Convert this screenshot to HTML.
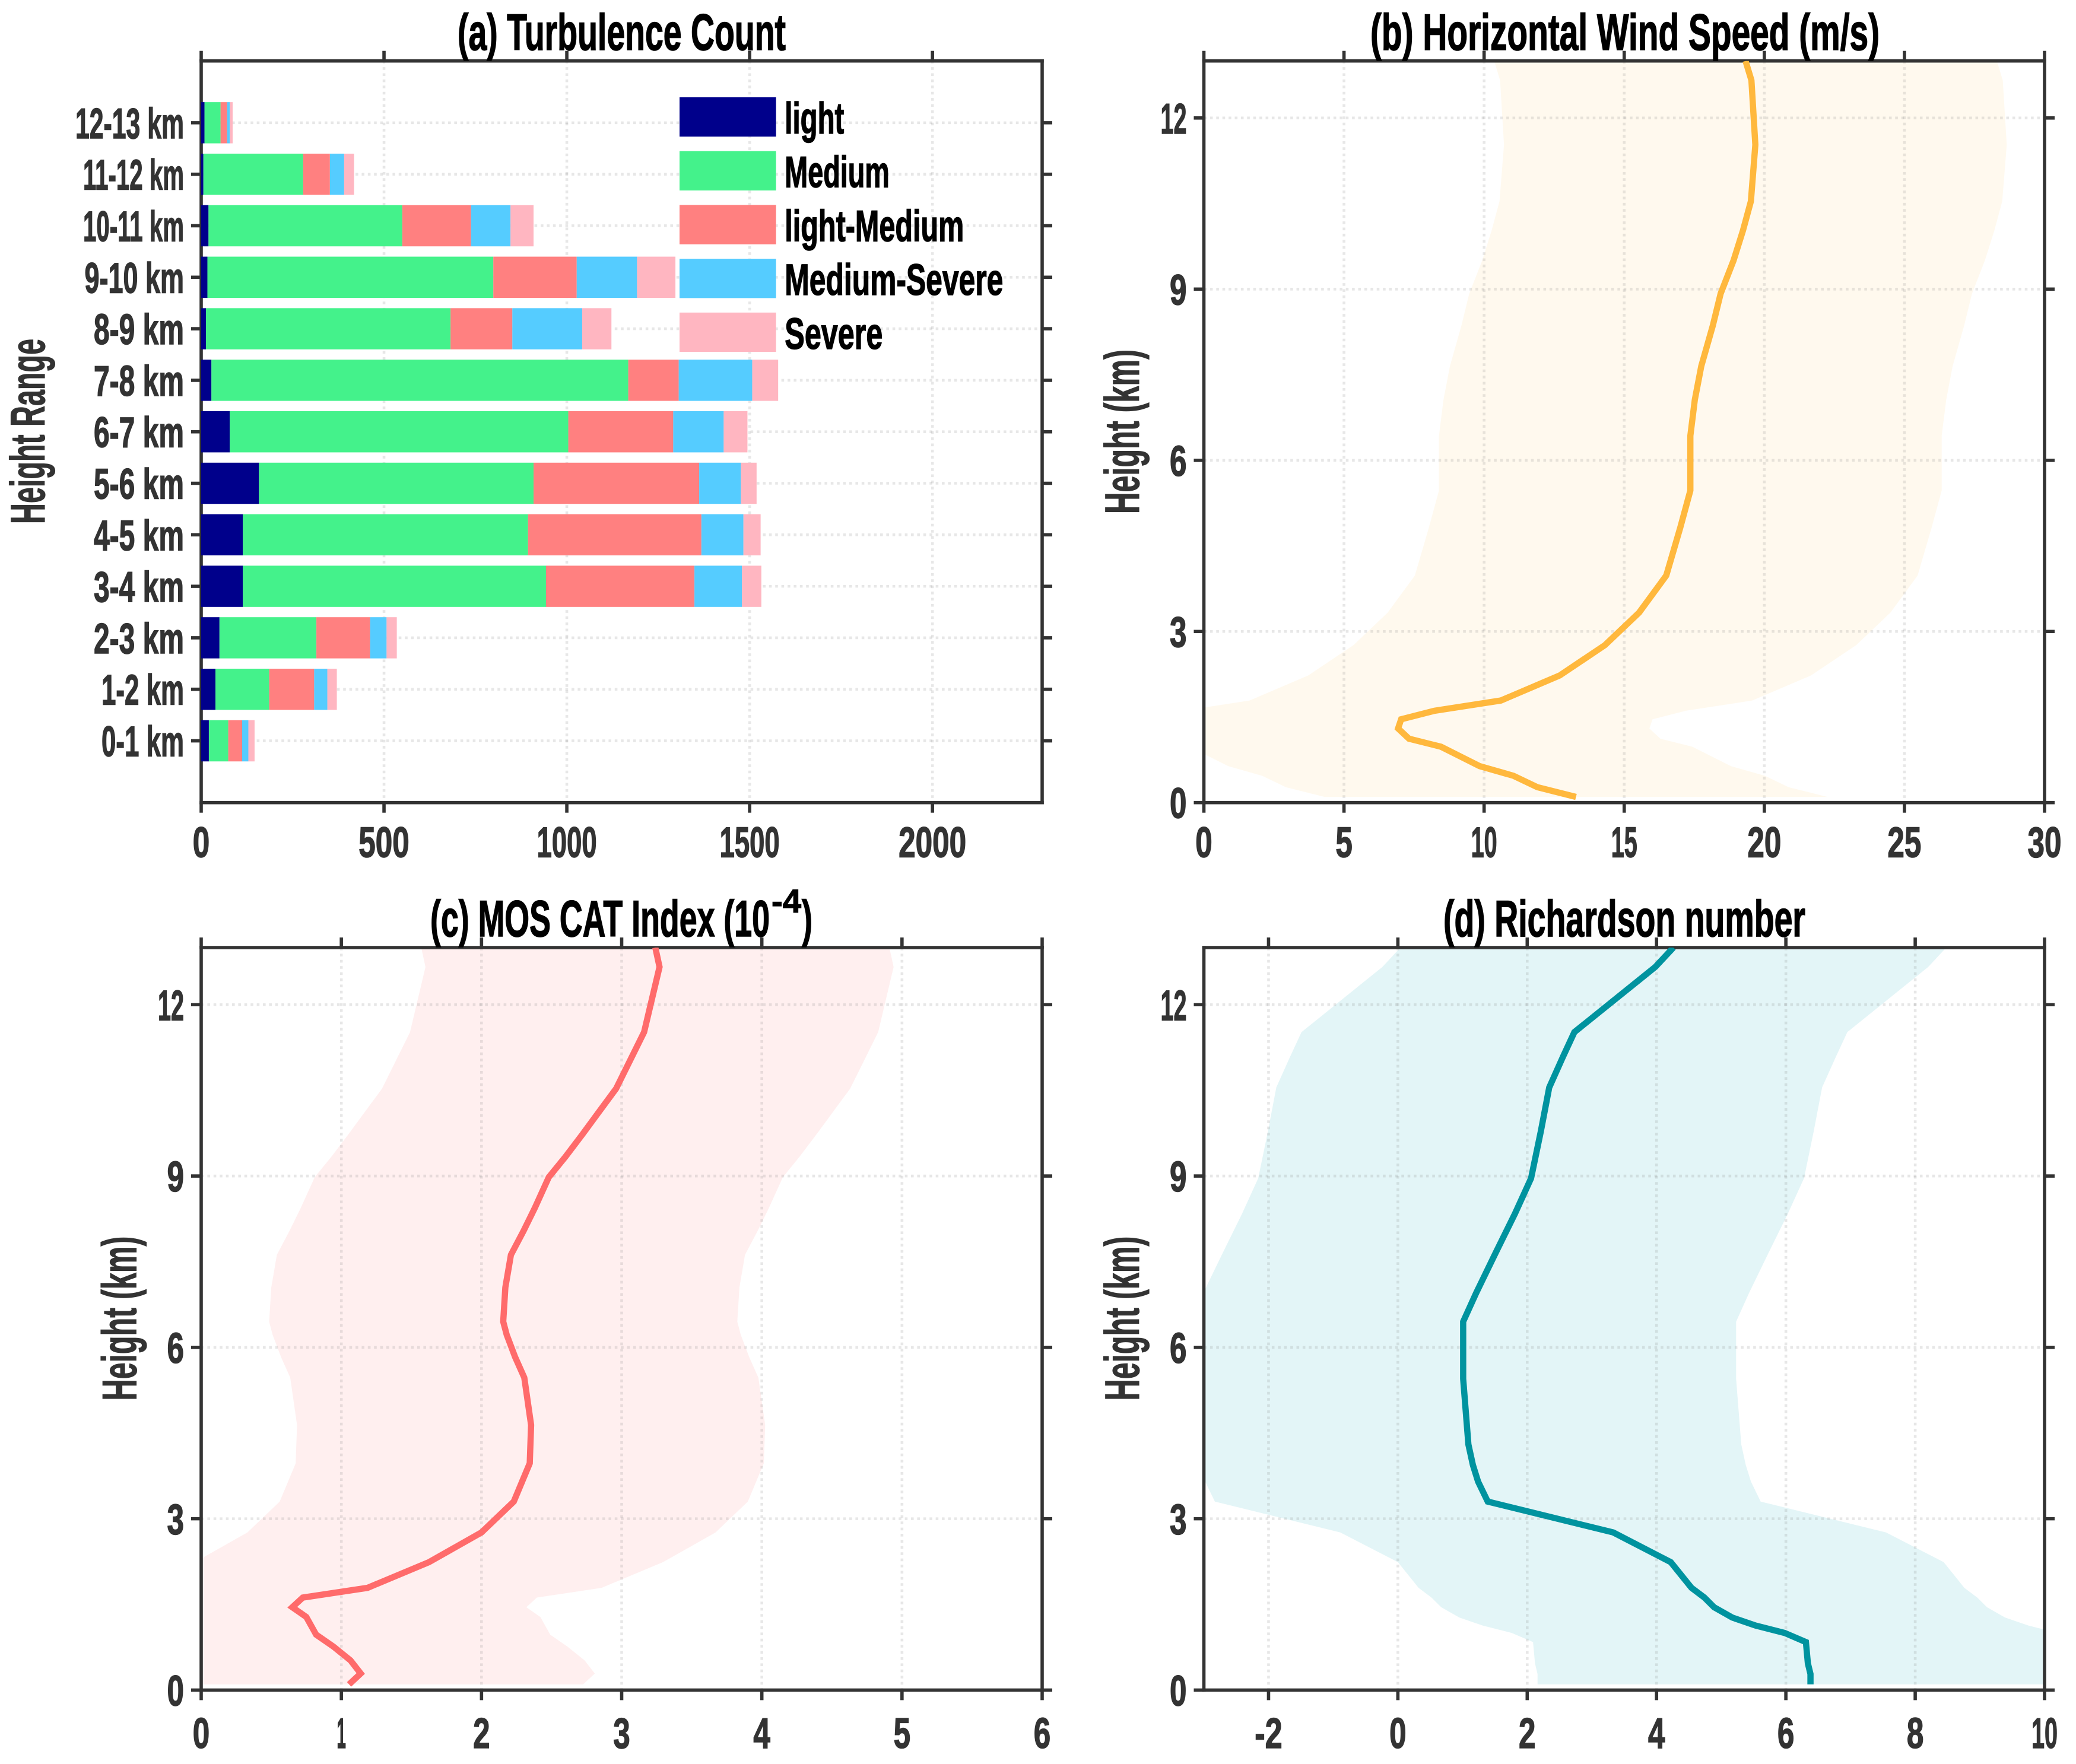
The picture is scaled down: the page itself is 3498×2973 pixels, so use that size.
<!DOCTYPE html>
<html lang="en">
<head>
<meta charset="utf-8">
<title>Turbulence profile chart</title>
<style>
html,body{margin:0;padding:0;background:#fff;width:3498px;height:2973px;overflow:hidden}
svg{display:block}
text{font-family:"Liberation Sans",sans-serif;font-weight:700}
</style>
</head>
<body>
<svg id="fig" xmlns="http://www.w3.org/2000/svg" width="3498" height="2973" viewBox="0 0 3498 2973">
<rect x="0" y="0" width="3498" height="2973" fill="#fff"/>
<defs>
<clipPath id="clip-b"><rect x="2028.5" y="102.7" width="1416.5" height="1250"/></clipPath>
<clipPath id="clip-c"><rect x="339" y="1597" width="1417" height="1251.4"/></clipPath>
<clipPath id="clip-d"><rect x="2028.5" y="1597" width="1416.5" height="1251.4"/></clipPath>
</defs>
<g id="panel-a"></g>
<g id="panel-b"></g>
<g id="panel-c"></g>
<g id="panel-d"></g>

<text x="771" y="84" font-size="86" fill="#000" stroke="#000" stroke-width="1.6" textLength="553" lengthAdjust="spacingAndGlyphs">(a) Turbulence Count</text>
<text x="2309" y="84" font-size="86" fill="#000" stroke="#000" stroke-width="1.6" textLength="858" lengthAdjust="spacingAndGlyphs">(b) Horizontal Wind Speed (m/s)</text>
<text x="725" y="1578" font-size="86" fill="#000" stroke="#000" stroke-width="1.6" textLength="572" lengthAdjust="spacingAndGlyphs">(c) MOS CAT Index (10</text>
<text x="1300" y="1538" font-size="56" fill="#000" stroke="#000" stroke-width="1.2" textLength="50" lengthAdjust="spacingAndGlyphs">-4</text>
<text x="1351" y="1578" font-size="86" fill="#000" stroke="#000" stroke-width="1.6" textLength="18" lengthAdjust="spacingAndGlyphs">)</text>
<text x="2432" y="1578" font-size="86" fill="#000" stroke="#000" stroke-width="1.6" textLength="610" lengthAdjust="spacingAndGlyphs">(d) Richardson number</text>

<text transform="translate(75,883) rotate(-90)" font-size="82" fill="#333" stroke="#333" stroke-width="1.2" textLength="312" lengthAdjust="spacingAndGlyphs">Height Range</text>
<text transform="translate(1919,866) rotate(-90)" font-size="82" fill="#333" stroke="#333" stroke-width="1.2" textLength="277" lengthAdjust="spacingAndGlyphs">Height (km)</text>
<text transform="translate(229.6,2360.6) rotate(-90)" font-size="82" fill="#333" stroke="#333" stroke-width="1.2" textLength="277" lengthAdjust="spacingAndGlyphs">Height (km)</text>
<text transform="translate(1919,2360.6) rotate(-90)" font-size="82" fill="#333" stroke="#333" stroke-width="1.2" textLength="277" lengthAdjust="spacingAndGlyphs">Height (km)</text>
</svg>

<script>
/* ---------- panel (a) data ---------- */
const rangeLabels = ['0-1 km','1-2 km','2-3 km','3-4 km','4-5 km','5-6 km','6-7 km','7-8 km','8-9 km','9-10 km','10-11 km','11-12 km','12-13 km'];
const seriesNames = ['light','Medium','light-Medium','Medium-Severe','Severe'];
const lightCounts = [21,39,50,114,114,158,78,28,13,17,20,6,9];
const mediumCounts = [53,147,265,829,780,751,926,1140,669,782,530,273,44];
const lightMediumCounts = [38,123,147,406,474,453,287,138,169,228,188,73,18];
const mediumSevereCounts = [17,36,45,130,115,114,138,201,191,165,108,39,7];
const severeCounts = [17,26,28,53,47,43,65,71,80,105,63,27,8];
const countTicks = [0,500,1000,1500,2000];

/* ---------- panel (b) data ---------- */
const windHeights = [13,12.66,11.53,10.54,10.03,9.5,8.92,8.36,7.65,7.06,6.43,5.47,4.82,3.98,3.33,2.76,2.23,1.79,1.61,1.46,1.3,1.12,0.98,0.64,0.47,0.27,0.1];
const windMean = [19.33,19.54,19.68,19.52,19.24,18.9,18.44,18.16,17.75,17.52,17.36,17.36,17.0,16.5,15.53,14.31,12.7,10.6,8.23,7.04,6.93,7.32,8.46,9.84,11.05,11.9,13.28];
const windLow = [10.36,10.57,10.71,10.55,10.27,9.93,9.47,9.19,8.78,8.55,8.39,8.39,8.03,7.53,6.56,5.34,3.73,1.63,-0.74,-1.93,-2.04,-1.65,-0.51,0.87,2.08,2.93,4.31];
const windHigh = [28.3,28.51,28.65,28.49,28.21,27.87,27.41,27.13,26.72,26.49,26.33,26.33,25.97,25.47,24.5,23.28,21.67,19.57,17.2,16.01,15.9,16.29,17.43,18.81,20.02,20.87,22.25];
const windTicks = [0,5,10,15,20,25,30];

/* ---------- panel (c) data ---------- */
const catHeights = [13,12.66,11.52,10.53,10.13,9.73,9.34,8.98,8.44,8.04,7.62,7.05,6.45,6.22,5.83,5.47,4.64,3.97,3.3,2.76,2.24,1.79,1.62,1.45,1.28,0.97,0.76,0.52,0.29,0.1];
const catMean = [3.24,3.27,3.16,2.96,2.84,2.72,2.6,2.48,2.38,2.3,2.21,2.17,2.155,2.18,2.24,2.305,2.354,2.344,2.23,2.0,1.625,1.187,0.725,0.65,0.75,0.82,0.944,1.065,1.138,1.055];
const catLow = [1.57,1.6,1.49,1.29,1.17,1.05,0.93,0.81,0.71,0.63,0.54,0.5,0.485,0.51,0.57,0.635,0.684,0.674,0.56,0.33,-0.045,-0.483,-0.945,-1.02,-0.92,-0.85,-0.726,-0.605,-0.532,-0.615];
const catHigh = [4.91,4.94,4.83,4.63,4.51,4.39,4.27,4.15,4.05,3.97,3.88,3.84,3.825,3.85,3.91,3.975,4.024,4.014,3.9,3.67,3.295,2.857,2.395,2.32,2.42,2.49,2.614,2.735,2.808,2.725];
const catTicks = [0,1,2,3,4,5,6];

/* ---------- panel (d) data ---------- */
const riHeights = [13,12.66,11.52,11.08,10.55,9.78,8.96,8.34,7.65,6.95,6.45,5.45,4.3,3.94,3.65,3.3,2.76,2.24,1.79,1.62,1.45,1.27,1.13,1.0,0.84,0.47,0.28,0.1];
const riMean = [4.26,3.98,2.73,2.55,2.34,2.21,2.06,1.81,1.51,1.21,1.01,1.01,1.09,1.16,1.24,1.39,3.33,4.22,4.54,4.74,4.89,5.17,5.53,5.98,6.31,6.34,6.38,6.38];
const riLow = [0.04,-0.24,-1.49,-1.67,-1.88,-2.01,-2.16,-2.41,-2.71,-3.01,-3.21,-3.21,-3.13,-3.06,-2.98,-2.83,-0.89,0,0.32,0.52,0.67,0.95,1.31,1.76,2.09,2.12,2.16,2.16];
const riHigh = [8.48,8.2,6.95,6.77,6.56,6.43,6.28,6.03,5.73,5.43,5.23,5.23,5.31,5.38,5.46,5.61,7.55,8.44,8.76,8.96,9.11,9.39,9.75,10.2,10.53,10.56,10.6,10.6];
const riTicks = [-2,0,2,4,6,8,10];

const heightTicks = [0,3,6,9,12];

const NS = 'http://www.w3.org/2000/svg';
const INK = '#333333';
const SPINE = 5.6;
const TICK = 17;
const GLYPH = {'1':15.5,'-':18,' ':13,'k':25,'m':39};

function mk(parent, tag, attrs, name) {
  const el = document.createElementNS(NS, tag);
  for (const k in attrs) el.setAttribute(k, attrs[k]);
  
  
  parent.appendChild(el);
  return el;
}
function labelWidth(s) {
  let w = 0;
  for (const c of String(s)) w += (c in GLYPH) ? GLYPH[c] : 28.5;
  return w;
}
function tickText(parent, s, x, y, anchor, name) {
  const w = labelWidth(s);
  const left = anchor === 'middle' ? x - w / 2 : x - w;
  const t = mk(parent, 'text', {x: left, y: y, 'font-size': 72, fill: INK, stroke: INK, 'stroke-width': 1.5,
    textLength: w, lengthAdjust: 'spacingAndGlyphs'}, name);
  t.textContent = s;
  return t;
}
function linear(d0, d1, r0, r1) {
  return v => r0 + (v - d0) * (r1 - r0) / (d1 - d0);
}
function drawGridV(g, ticks, sx, box) {
  ticks.forEach(t => {
    mk(g, 'line', {x1: sx(t), x2: sx(t), y1: box.top, y2: box.bottom, stroke: '#808080', 'stroke-opacity': .19,
      'stroke-width': 4.6, 'stroke-dasharray': '4.6 5.8'}, 'vertical-grid-line');
  });
}
function drawGridH(g, vals, sy, box) {
  vals.forEach(v => {
    mk(g, 'line', {x1: box.left, x2: box.right, y1: sy(v), y2: sy(v), stroke: '#808080', 'stroke-opacity': .19,
      'stroke-width': 4.6, 'stroke-dasharray': '4.6 5.8'}, 'horizontal-grid-line');
  });
}
function drawFrame(g, xTicks, sx, yVals, yLabels, sy, box, labelDy) {
  const sp = (x1, y1, x2, y2, name) => mk(g, 'line', {x1, y1, x2, y2, stroke: INK, 'stroke-width': SPINE, 'stroke-linecap': 'square'}, name);
  sp(box.left, box.top, box.right, box.top, 'top-spine');
  sp(box.left, box.bottom, box.right, box.bottom, 'bottom-spine');
  sp(box.left, box.top, box.left, box.bottom, 'left-spine');
  sp(box.right, box.top, box.right, box.bottom, 'right-spine');
  xTicks.forEach(t => {
    const x = sx(t);
    mk(g, 'line', {x1: x, x2: x, y1: box.bottom, y2: box.bottom + TICK, stroke: INK, 'stroke-width': SPINE}, 'x-tick-bottom');
    mk(g, 'line', {x1: x, x2: x, y1: box.top, y2: box.top - TICK, stroke: INK, 'stroke-width': SPINE}, 'x-tick-top');
    tickText(g, String(t), x, box.bottom + labelDy, 'middle', 'x-tick-label');
  });
  yVals.forEach((v, i) => {
    const y = sy(v);
    mk(g, 'line', {x1: box.left, x2: box.left - TICK, y1: y, y2: y, stroke: INK, 'stroke-width': SPINE}, 'y-tick-left');
    mk(g, 'line', {x1: box.right, x2: box.right + TICK, y1: y, y2: y, stroke: INK, 'stroke-width': SPINE}, 'y-tick-right');
    tickText(g, yLabels[i], box.left - 29, y + 26, 'end', 'y-tick-label');
  });
}
function drawProfile(id, box, xlim, xTicks, heights, mean, low, high, color, bandColor, fillOpacity, labelDy) {
  const g = document.getElementById(id);
  const sx = linear(xlim[0], xlim[1], box.left, box.right);
  const sy = linear(0, 13, box.bottom, box.top);
  const clip = 'url(#clip-' + id.slice(-1) + ')';
  const band = [];
  low.forEach((v, i) => band.push(sx(v).toFixed(1) + ',' + sy(heights[i]).toFixed(1)));
  for (let i = high.length - 1; i >= 0; i--) band.push(sx(high[i]).toFixed(1) + ',' + sy(heights[i]).toFixed(1));
  mk(g, 'polygon', {points: band.join(' '), fill: bandColor, 'fill-opacity': fillOpacity, 'clip-path': clip}, 'uncertainty-band');
  drawGridV(g, xTicks, sx, box);
  drawGridH(g, heightTicks, sy, box);
  drawFrame(g, xTicks, sx, heightTicks, heightTicks.map(String), sy, box, labelDy);
  const pts = mean.map((v, i) => sx(v).toFixed(1) + ',' + sy(heights[i]).toFixed(1)).join(' ');
  mk(g, 'polyline', {points: pts, fill: 'none', stroke: color, 'stroke-width': 10.5, 'stroke-linejoin': 'miter', 'clip-path': clip}, 'mean-profile-line');
}

/* ---------- panel (a) ---------- */
(function () {
  const g = document.getElementById('panel-a');
  const box = {left: 339, right: 1756, top: 102.7, bottom: 1352.7};
  const sx = linear(0, 2300, box.left, box.right);
  const sy = linear(-1.2, 13.2, box.bottom, box.top);
  const idx = rangeLabels.map((_, i) => i);
  drawGridV(g, countTicks, sx, box);
  drawGridH(g, idx, sy, box);
  drawFrame(g, countTicks, sx, idx, rangeLabels, sy, box, 91.6);
  const stacks = [lightCounts, mediumCounts, lightMediumCounts, mediumSevereCounts, severeCounts];
  const colors = ['#00008B', '#44F28B', '#FF8080', '#55CCFF', '#FFB6C1'];
  const barH = 0.8;
  stacks.forEach((vals, s) => {
    vals.forEach((v, i) => {
      let base = 0;
      for (let k = 0; k < s; k++) base += stacks[k][i];
      const y0 = sy(i + barH / 2);
      mk(g, 'rect', {x: sx(base), y: y0, width: sx(base + v) - sx(base), height: sy(i - barH / 2) - y0, fill: colors[s]}, 'bar-segment');
    });
  });
  const legend = mk(g, 'g', {}, 'legend');
  const legendX = 1145, legendW = 162.6, legendTop = 164, legendStep = 90.7, legendH = 66.3;
  const legendTextW = [100, 176.5, 302, 368, 165];
  seriesNames.forEach((name, i) => {
    const y = legendTop + i * legendStep;
    mk(legend, 'rect', {x: legendX, y: y, width: legendW, height: legendH, fill: colors[i]}, 'legend-swatch');
    const t = mk(legend, 'text', {x: 1322.3, y: y + 61, 'font-size': 74, fill: '#000', stroke: '#000', 'stroke-width': 1.5,
      textLength: legendTextW[i], lengthAdjust: 'spacingAndGlyphs'}, 'legend-label');
    t.textContent = name;
  });
})();

/* ---------- panels (b), (c), (d) ---------- */
drawProfile('panel-b', {left: 2028.5, right: 3445, top: 102.7, bottom: 1352.7}, [0, 30], windTicks, windHeights, windMean, windLow, windHigh, '#FFB83D', '#FFC040', 0.09, 91.6);
drawProfile('panel-c', {left: 339, right: 1756, top: 1597, bottom: 2848.4}, [0, 6], catTicks, catHeights, catMean, catLow, catHigh, '#FF6B6B', '#FF6B6B', 0.11, 97.6);
drawProfile('panel-d', {left: 2028.5, right: 3445, top: 1597, bottom: 2848.4}, [-3, 10], riTicks, riHeights, riMean, riLow, riHigh, '#00939F', '#00A0B4', 0.11, 97.6);
</script>
</body>
</html>
